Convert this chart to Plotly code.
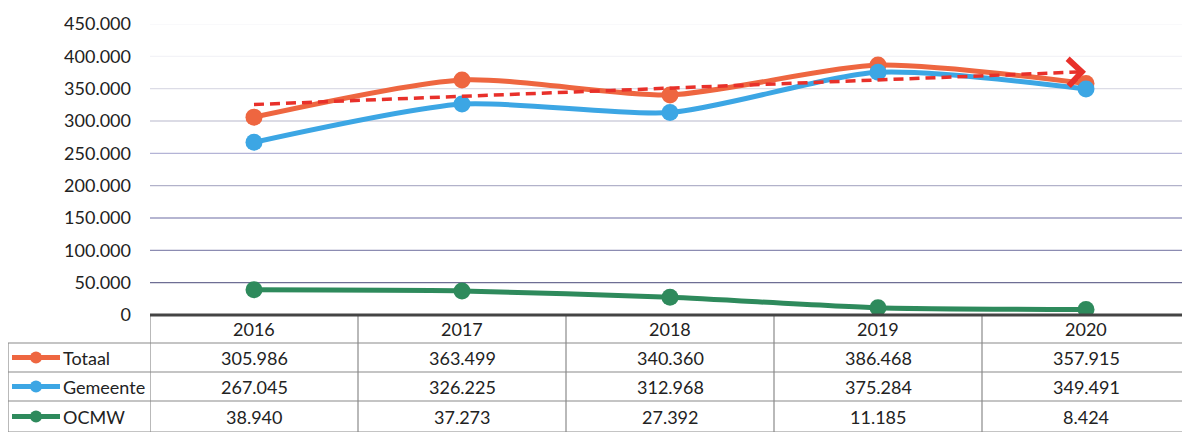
import numpy as np
import plotly.graph_objects as go

years = ["2016", "2017", "2018", "2019", "2020"]
totaal = [305986, 363499, 340360, 386468, 357915]
gemeente = [267045, 326225, 312968, 375284, 349491]
ocmw = [38940, 37273, 27392, 11185, 8424]
series_names = ["Totaal", "Gemeente", "OCMW"]
series_colors = ["#EE6640", "#3CA6E4", "#2E8A5C"]
trend_color = "#E8302A"
y_ticks = [0, 50000, 100000, 150000, 200000, 250000, 300000, 350000, 400000, 450000]
grid_colors = [None, "#6E6E94", "#8C8CB2", "#9C9CC2", "#B2B2CA", "#B4B4D6",
               "#CFCFDD", "#DCDCE6", "#F3F3F7", "#F7F7FA"]

OFF = 8  # page body margin
W, H = 1190 - OFF, 432 - OFF
ML, MR, MT, MB = 150 - OFF, 0, 24 - OFF, 117
plot_h = H - MT - MB
plot_w = W - ML - MR
FONT = "Lato, Open Sans, sans-serif"

fig = go.Figure()
xs = list(range(len(years)))
all_series = [totaal, gemeente, ocmw]

for i in [0, 1, 2]:
    fig.add_trace(go.Scatter(
        x=xs, y=all_series[i], mode="lines+markers", name=series_names[i],
        line=dict(color=series_colors[i], width=5, shape="spline", smoothing=0.7),
        marker=dict(size=17, color=series_colors[i]),
        showlegend=False))

# linear trendline of Totaal (on top)
coef = np.polyfit(xs, totaal, 1)
trend = [coef[0] * x + coef[1] for x in xs]
fig.add_trace(go.Scatter(
    x=[xs[0], xs[-1] - 0.04], y=[trend[0], trend[-1] - coef[0] * 0.04], mode="lines",
    line=dict(color=trend_color, width=3.5, dash="10px,6px"),
    showlegend=False, hoverinfo="skip"))

fig.update_xaxes(range=[-0.5, len(years) - 0.5], showticklabels=False, showgrid=False,
                 zeroline=False, showline=False, fixedrange=True)
fig.update_yaxes(range=[0, 450000], tickvals=y_ticks, tickformat=",d",
                 showgrid=False, zeroline=False,
                 tickfont=dict(family=FONT, size=18, color="#222"), ticks="",
                 ticklabelstandoff=18, fixedrange=True)

def py(px):
    return (315 - px) / plot_h

def pxx(px):
    return (px - 150) / plot_w

shapes = []
annotations = []
for t, c in zip(y_ticks, grid_colors):
    if c is None:
        continue
    shapes.append(dict(type="line", xref="paper", yref="y", x0=0, x1=1, y0=t, y1=t,
                       layer="below", line=dict(color=c, width=1.3)))

line_col = "#8A8A8A"
row_edges = [315, 343, 372, 401, 432]
for r in row_edges[1:]:
    shapes.append(dict(type="line", xref="paper", yref="paper", x0=pxx(8), x1=1, y0=py(r), y1=py(r),
                       line=dict(color=line_col, width=1.2)))
for k in range(len(years) + 1):
    shapes.append(dict(type="line", xref="x", yref="paper", x0=k - 0.5, x1=k - 0.5,
                       y0=py(315), y1=py(432), line=dict(color=line_col, width=1.2)))
shapes.append(dict(type="line", xref="paper", yref="paper", x0=pxx(8), x1=pxx(8),
                   y0=py(343), y1=py(432), line=dict(color=line_col, width=1.2)))
shapes.append(dict(type="line", xref="paper", yref="paper", x0=0, x1=1, y0=py(315), y1=py(315),
                   line=dict(color="#444", width=3)))

# arrowhead at end of trendline
annotations.append(dict(x=xs[-1], y=trend[-1], ax=xs[-1] - 0.05,
                        ay=trend[-1] - coef[0] * 0.05, xref="x", yref="y", axref="x", ayref="y",
                        showarrow=True, arrowhead=4, arrowsize=1.5, arrowwidth=3.5,
                        arrowcolor=trend_color, text=""))

for k, yv in enumerate(years):
    annotations.append(dict(x=k, y=py(329), xref="x", yref="paper", text=yv, showarrow=False,
                            yanchor="middle", font=dict(family=FONT, size=18, color="#222")))

def fmt(v):
    return f"{v:,}".replace(",", ".")

for i, s in enumerate(all_series):
    yc = (row_edges[i + 1] + row_edges[i + 2]) / 2
    for k, v in enumerate(s):
        annotations.append(dict(x=k, y=py(yc), xref="x", yref="paper", text=fmt(v), showarrow=False,
                                yanchor="middle", font=dict(family=FONT, size=18, color="#222")))
    shapes.append(dict(type="line", xref="paper", yref="paper", x0=pxx(12), x1=pxx(60),
                       y0=py(yc), y1=py(yc), line=dict(color=series_colors[i], width=5)))
    shapes.append(dict(type="circle", xref="paper", yref="paper", xsizemode="pixel", ysizemode="pixel",
                       xanchor=pxx(36), yanchor=py(yc), x0=-6, x1=6, y0=-6, y1=6,
                       fillcolor=series_colors[i], line=dict(width=0)))
    annotations.append(dict(x=pxx(61), y=py(yc), xref="paper", yref="paper", text=series_names[i],
                            showarrow=False, xanchor="left", yanchor="middle",
                            font=dict(family=FONT, size=18, color="#222")))

fig.update_layout(
    width=W, height=H, margin=dict(l=ML, r=MR, t=MT, b=MB),
    paper_bgcolor="white", plot_bgcolor="white", separators=",.",
    shapes=shapes, annotations=annotations, showlegend=False,
)

fig.write_html("out.html")
